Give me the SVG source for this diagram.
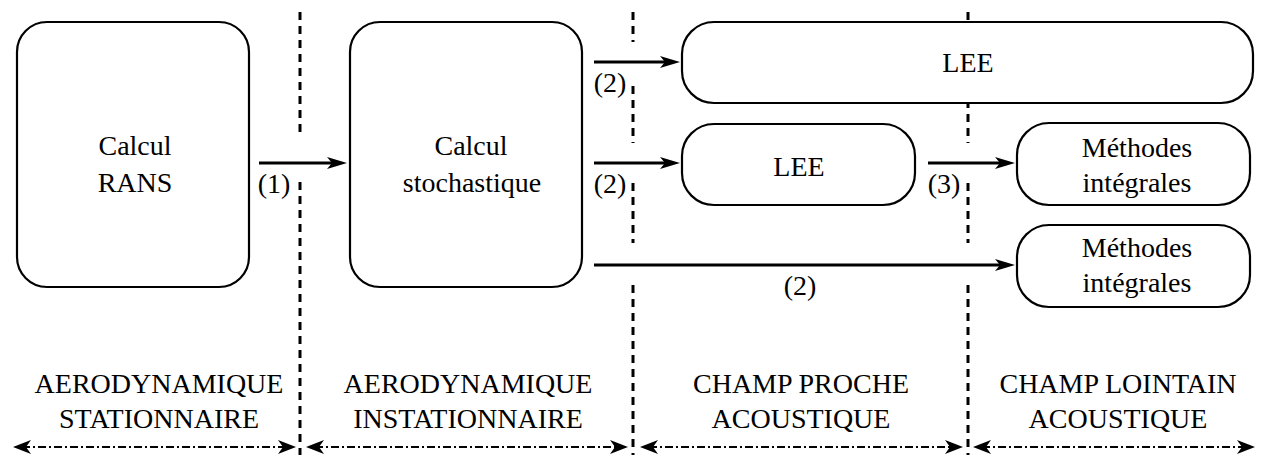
<svg xmlns="http://www.w3.org/2000/svg" width="1263" height="455" viewBox="0 0 1263 455">
<style>
text{font-family:"Liberation Serif",Tinos,"Times New Roman",Times,"DejaVu Serif",serif;font-size:28px;fill:#000;text-anchor:middle}
.box{fill:#fff;stroke:#000;stroke-width:2.2}
.sep{stroke:#000;stroke-width:3;stroke-dasharray:8 6;fill:none}
.arr{stroke:#000;stroke-width:3;fill:none;marker-end:url(#ah)}
.span{stroke:#000;stroke-width:2;stroke-dasharray:8 3 2 3;fill:none;marker-start:url(#bh);marker-end:url(#bh)}
</style>
<defs>
<marker id="ah" viewBox="0 0 20 12" markerWidth="20" markerHeight="12" refX="10" refY="6" orient="auto" markerUnits="userSpaceOnUse">
<path d="M0,0 L20,6 L0,12 L5,6 Z" fill="#000"/>
</marker>
<marker id="bh" viewBox="0 0 18 14" markerWidth="18" markerHeight="14" refX="9" refY="7" orient="auto-start-reverse" markerUnits="userSpaceOnUse">
<path d="M0,0 L18,7 L0,14 L5,7 Z" fill="#000"/>
</marker>
</defs>
<g id="separators">
<line class="sep" x1="300" y1="12" x2="300" y2="136"/>
<line class="sep" x1="300" y1="182" x2="300" y2="455"/>
<line class="sep" x1="633" y1="12" x2="633" y2="42"/>
<line class="sep" x1="633" y1="86" x2="633" y2="143"/>
<line class="sep" x1="633" y1="183" x2="633" y2="243"/>
<line class="sep" x1="633" y1="285" x2="633" y2="455"/>
<line class="sep" x1="968" y1="12" x2="968" y2="40"/>
<line class="sep" x1="968" y1="86" x2="968" y2="143"/>
<line class="sep" x1="968" y1="183" x2="968" y2="243"/>
<line class="sep" x1="968" y1="285" x2="968" y2="455"/>
</g>
<g id="rans">
<rect class="box" x="17" y="22" width="232" height="265" rx="30" ry="30"/>
<text x="135" y="155">Calcul</text>
<text x="135" y="192">RANS</text>
</g>
<g id="stochastique">
<rect class="box" x="350" y="22" width="232" height="265" rx="30" ry="30"/>
<text x="471" y="155">Calcul</text>
<text x="472" y="192">stochastique</text>
</g>
<g id="lee-large">
<rect class="box" x="682" y="22" width="571" height="81" rx="32" ry="32"/>
<text x="968" y="72">LEE</text>
</g>
<g id="lee-small">
<rect class="box" x="682" y="124" width="233" height="81" rx="32" ry="32"/>
<text x="799" y="176">LEE</text>
</g>
<g id="methodes-1">
<rect class="box" x="1017" y="123" width="233" height="82" rx="32" ry="32"/>
<text x="1137" y="157">Méthodes</text>
<text x="1137" y="192">intégrales</text>
</g>
<g id="methodes-2">
<rect class="box" x="1017" y="225" width="233" height="82" rx="32" ry="32"/>
<text x="1137" y="257">Méthodes</text>
<text x="1137" y="292">intégrales</text>
</g>
<g id="connectors">
<line class="arr" x1="259" y1="163" x2="337" y2="163"/>
<text x="274" y="193">(1)</text>
<line class="arr" x1="594" y1="62" x2="670" y2="62"/>
<text x="610" y="92">(2)</text>
<line class="arr" x1="594" y1="163" x2="670" y2="163"/>
<text x="610" y="193">(2)</text>
<line class="arr" x1="928" y1="163" x2="1005" y2="163"/>
<text x="944" y="193">(3)</text>
<line class="arr" x1="594" y1="265" x2="1005" y2="265"/>
<text x="800" y="295">(2)</text>
</g>
<g id="domains">
<text x="159" y="393">AERODYNAMIQUE</text>
<text x="159" y="428">STATIONNAIRE</text>
<text x="468" y="393">AERODYNAMIQUE</text>
<text x="468" y="428">INSTATIONNAIRE</text>
<text x="801" y="393">CHAMP PROCHE</text>
<text x="801" y="428">ACOUSTIQUE</text>
<text x="1118" y="393">CHAMP LOINTAIN</text>
<text x="1118" y="428">ACOUSTIQUE</text>
<line class="span" x1="22" y1="447" x2="287" y2="447"/>
<line class="span" x1="315" y1="447" x2="619" y2="447"/>
<line class="span" x1="649" y1="447" x2="954" y2="447"/>
<line class="span" x1="982" y1="447" x2="1246" y2="447"/>
</g>
</svg>
